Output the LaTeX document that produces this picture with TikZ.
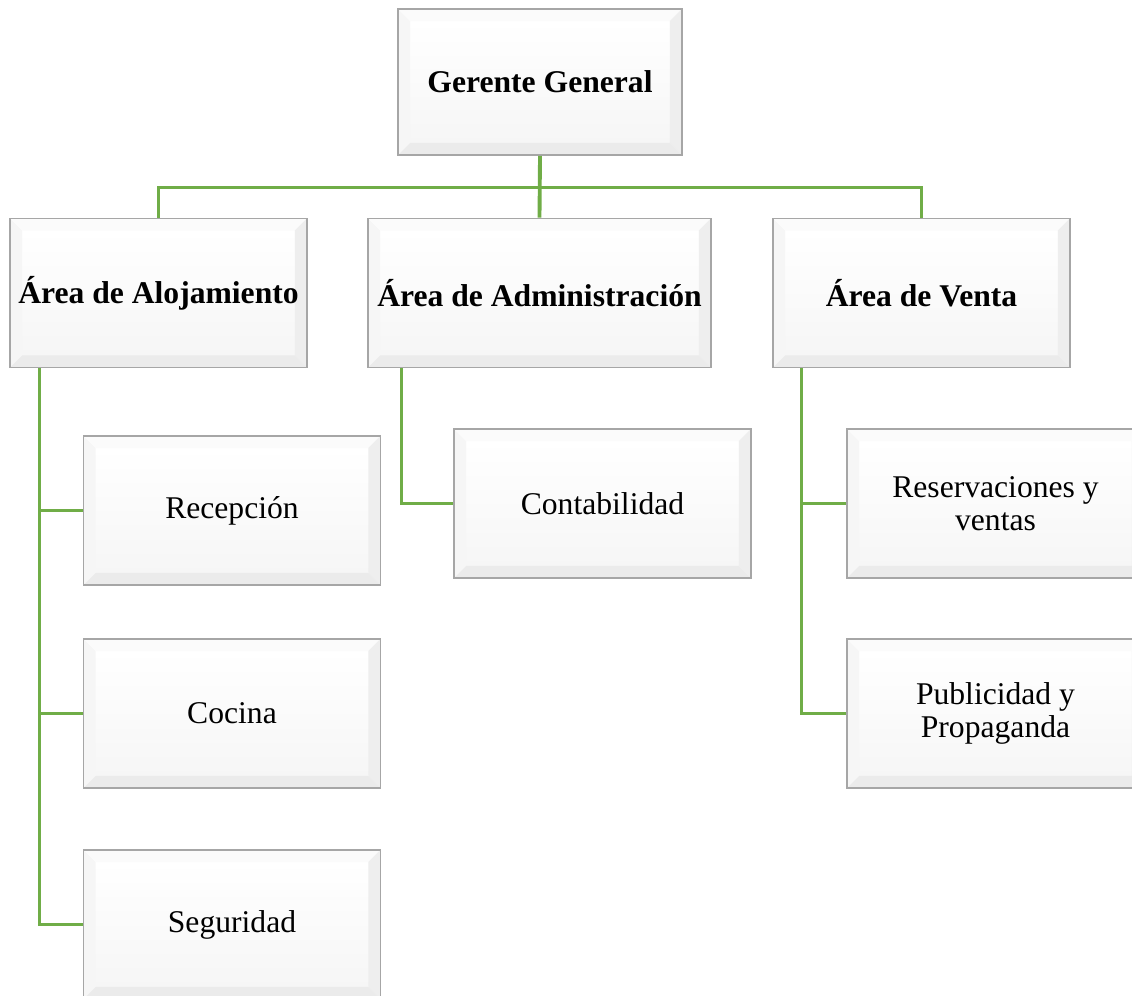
\documentclass[tikz,border=0pt]{standalone}
\usepackage{fontspec}
\setmainfont{Liberation Serif}
\usepackage{tikz}
\usetikzlibrary{positioning, calc}

\definecolor{linegreen}{HTML}{70AD47}
\definecolor{framegray}{HTML}{A6A6A6}

\begin{document}
\begin{tikzpicture}[
    x=0.02cm, y=-0.02cm,              % <── 1 unit = 1 px of the reference
    bevel/.style={path picture={
        \path (path picture bounding box.south west) coordinate (bsw)
              (path picture bounding box.north west) coordinate (bnw)
              (path picture bounding box.north east) coordinate (bne)
              (path picture bounding box.south east) coordinate (bse);
        \shade[top color=white, bottom color=gray!7] ($(bsw)+(12,-12)$) rectangle ($(bne)+(-12,12)$);
        \fill[gray!7]  (bsw) -- (bnw) -- ($(bnw)+(12,12)$) -- ($(bsw)+(12,-12)$) -- cycle;
        \fill[gray!3]  (bnw) -- (bne) -- ($(bne)+(-12,12)$) -- ($(bnw)+(12,12)$) -- cycle;
        \fill[gray!13] (bne) -- (bse) -- ($(bse)+(-12,-12)$) -- ($(bne)+(-12,12)$) -- cycle;
        \fill[gray!16] (bse) -- (bsw) -- ($(bsw)+(12,-12)$) -- ($(bse)+(-12,-12)$) -- cycle;
    }},
    unit_node/.style={rectangle, draw=framegray, line width=1pt, fill=white, bevel,
        minimum width=5.94cm, minimum height=2.98cm, align=center,
        font=\fontsize{18}{18.7}\selectfont},
    area_node/.style={unit_node, font=\fontsize{18}{18.7}\selectfont\bfseries},
    link/.style={draw=linegreen, line width=1.7pt}
    ]
    \useasboundingbox (0,0) rectangle (1132,996);

    % Nodes
    \node[area_node, minimum width=5.68cm, minimum height=2.92cm] (gerente) at (540,82) {Gerente General};
    \node[area_node] (aloj) at (158.5,293) {Área de Alojamiento};
    \node[area_node, minimum width=6.86cm] (admin) at (539.5,293) {Área de Administración};
    \node[area_node] (venta) at (921.5,293) {Área de Venta};

    \node[unit_node] (recep) at (232,510.5) {Recepción};
    \node[unit_node] (cocina) at (232,713.5) {Cocina};
    \node[unit_node] (segur) at (232,924.5) {Seguridad};
    \node[unit_node] (conta) at (602.5,503.5) {Contabilidad};
    \node[unit_node] (reserv) at (995.5,503.5) {Reservaciones y\\ventas};
    \node[unit_node] (publi) at (995.5,713.5) {Publicidad y\\Propaganda};

    % Connectors
    \draw[link, line width=2.2pt] (gerente.south) -- (admin.north);
    \draw[link] (aloj.north) -- ++(0,-30) -| (venta.north);

    \coordinate (alojT) at ($(aloj.south west)+(30,0)$);
    \coordinate (adminT) at ($(admin.south west)+(34,0)$);
    \coordinate (ventaT) at ($(venta.south west)+(29,0)$);

    \draw[link] (alojT) |- (recep.west);
    \draw[link] (alojT) |- (cocina.west);
    \draw[link] (alojT) |- (segur.west);
    \draw[link] (adminT) |- (conta.west);
    \draw[link] (ventaT) |- (reserv.west);
    \draw[link] (ventaT) |- (publi.west);
\end{tikzpicture}
\end{document}
